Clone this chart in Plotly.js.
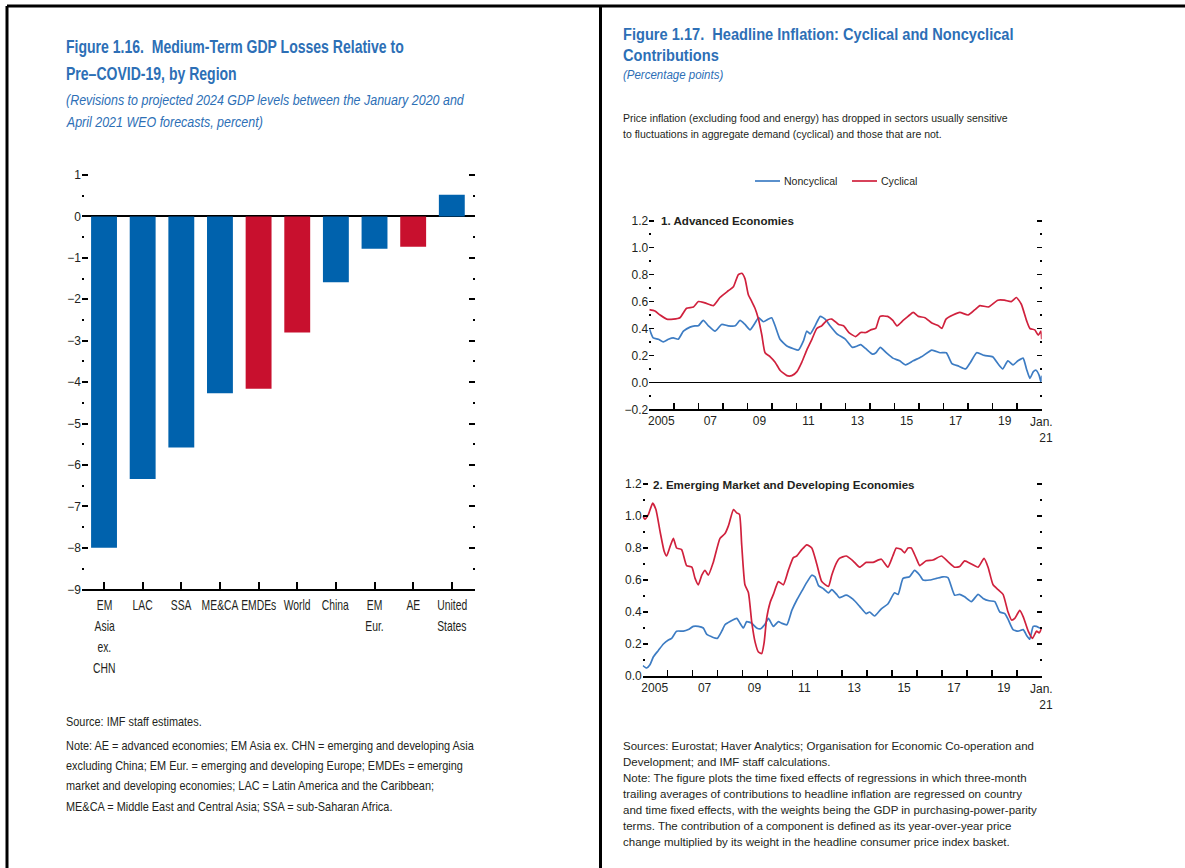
<!DOCTYPE html>
<html>
<head>
<meta charset="utf-8">
<script src="https://cdn.plot.ly/plotly-3.0.1.min.js"></script>
<style>
html,body{margin:0;padding:0;background:#fff;}
#chart{width:1185px;height:868px;}
</style>
</head>
<body>
<div id="chart"></div>
<script>
// ---------- Figure 1.16 data ----------
const regions = ['EM<br>Asia<br>ex.<br>CHN','LAC','SSA','ME&CA','EMDEs','World','China','EM<br>Eur.','AE','United<br>States'];
const gdpRevision = [-8.0, -6.34, -5.58, -4.27, -4.16, -2.80, -1.59, -0.78, -0.73, 0.52];
const aggregateGroups = ['EMDEs','World','AE'];

// ---------- Figure 1.17 data ----------
// Panel 1: Advanced Economies
const aeNoncycDates = [2005.00,2005.16,2005.37,2005.57,2005.78,2005.98,2006.18,2006.39,2006.66,2006.86,2007.00,2007.20,2007.41,2007.68,2007.95,2008.22,2008.50,2008.70,2008.90,2009.11,2009.31,2009.45,2009.65,2009.86,2009.99,2010.13,2010.33,2010.61,2010.88,2011.08,2011.29,2011.42,2011.56,2011.76,2011.97,2012.17,2012.37,2012.65,2013.00,2013.28,2013.48,2013.62,2013.83,2014.10,2014.24,2014.42,2014.66,2014.93,2015.21,2015.45,2015.76,2016.10,2016.52,2016.86,2017.11,2017.34,2017.62,2017.90,2018.10,2018.35,2018.66,2019.00,2019.21,2019.41,2019.62,2019.83,2020.03,2020.24,2020.38,2020.52,2020.66,2020.77,2020.90,2020.97,2021.00];
const aeNoncyc = [0.40,0.33,0.32,0.30,0.32,0.33,0.32,0.38,0.41,0.42,0.42,0.46,0.42,0.38,0.43,0.42,0.42,0.46,0.43,0.39,0.44,0.48,0.45,0.47,0.48,0.42,0.32,0.27,0.25,0.24,0.31,0.38,0.36,0.42,0.49,0.47,0.42,0.36,0.32,0.26,0.27,0.28,0.25,0.21,0.22,0.26,0.22,0.18,0.16,0.13,0.16,0.19,0.24,0.22,0.22,0.14,0.12,0.10,0.15,0.22,0.20,0.19,0.14,0.10,0.16,0.13,0.16,0.18,0.10,0.03,0.08,0.09,0.05,0.00,0.05];
const aeCycDates = [2005.00,2005.23,2005.44,2005.71,2005.98,2006.25,2006.52,2006.80,2007.00,2007.27,2007.61,2007.88,2008.22,2008.43,2008.63,2008.77,2008.90,2009.04,2009.18,2009.31,2009.45,2009.59,2009.72,2009.93,2010.13,2010.33,2010.61,2010.81,2011.02,2011.22,2011.42,2011.63,2011.83,2012.03,2012.24,2012.44,2012.72,2012.92,2013.14,2013.41,2013.62,2013.83,2014.03,2014.23,2014.41,2014.72,2014.93,2015.10,2015.35,2015.55,2015.76,2015.97,2016.24,2016.52,2016.79,2016.93,2017.10,2017.38,2017.66,2018.00,2018.28,2018.48,2018.83,2019.21,2019.48,2019.76,2019.97,2020.17,2020.38,2020.52,2020.72,2020.86,2020.97,2021.00];
const aeCyc = [0.54,0.53,0.50,0.47,0.47,0.48,0.55,0.56,0.60,0.59,0.57,0.63,0.68,0.71,0.80,0.81,0.77,0.65,0.60,0.55,0.47,0.35,0.22,0.19,0.15,0.09,0.05,0.05,0.08,0.15,0.24,0.32,0.40,0.42,0.46,0.47,0.43,0.42,0.37,0.34,0.37,0.37,0.39,0.40,0.49,0.49,0.46,0.42,0.46,0.49,0.52,0.49,0.48,0.44,0.42,0.40,0.47,0.50,0.52,0.50,0.54,0.57,0.56,0.61,0.61,0.60,0.63,0.58,0.46,0.40,0.39,0.35,0.38,0.32];

// Panel 2: Emerging Market and Developing Economies
const emNoncycDates = [2005.00,2005.16,2005.29,2005.43,2005.63,2005.83,2006.03,2006.16,2006.36,2006.63,2006.83,2007.03,2007.23,2007.43,2007.57,2007.77,2007.99,2008.17,2008.30,2008.50,2008.77,2008.90,2009.04,2009.17,2009.37,2009.57,2009.73,2009.91,2010.04,2010.24,2010.44,2010.57,2010.78,2010.98,2011.18,2011.38,2011.58,2011.78,2011.91,2012.05,2012.25,2012.45,2012.58,2012.78,2012.89,2013.16,2013.43,2013.70,2013.96,2014.10,2014.30,2014.57,2014.83,2015.10,2015.24,2015.44,2015.70,2015.90,2016.11,2016.24,2016.51,2016.78,2017.04,2017.24,2017.51,2017.71,2017.91,2018.18,2018.45,2018.65,2018.89,2019.12,2019.32,2019.52,2019.65,2019.85,2020.05,2020.26,2020.39,2020.52,2020.66,2020.79,2020.92,2021.00];
const emNoncyc = [0.065,0.05,0.07,0.12,0.16,0.20,0.225,0.235,0.28,0.28,0.29,0.31,0.31,0.30,0.26,0.245,0.235,0.28,0.32,0.34,0.36,0.33,0.30,0.34,0.33,0.30,0.295,0.325,0.36,0.31,0.34,0.33,0.32,0.41,0.475,0.53,0.585,0.63,0.62,0.565,0.545,0.52,0.54,0.51,0.49,0.505,0.48,0.435,0.39,0.40,0.375,0.42,0.45,0.52,0.51,0.61,0.62,0.66,0.63,0.60,0.60,0.61,0.62,0.615,0.505,0.51,0.495,0.465,0.51,0.485,0.47,0.465,0.40,0.39,0.355,0.29,0.28,0.29,0.255,0.23,0.31,0.31,0.30,0.30];
const emCycDates = [2005.00,2005.09,2005.23,2005.40,2005.53,2005.70,2005.86,2005.96,2006.10,2006.23,2006.36,2006.56,2006.76,2006.97,2007.10,2007.23,2007.37,2007.50,2007.63,2007.83,2008.10,2008.30,2008.44,2008.64,2008.77,2008.88,2008.97,2009.10,2009.24,2009.37,2009.51,2009.64,2009.77,2009.87,2009.97,2010.11,2010.24,2010.44,2010.64,2010.84,2011.04,2011.18,2011.38,2011.58,2011.78,2011.98,2012.18,2012.45,2012.58,2012.78,2012.89,2013.16,2013.43,2013.70,2013.96,2014.23,2014.57,2014.83,2015.03,2015.17,2015.37,2015.50,2015.64,2015.77,2015.97,2016.11,2016.37,2016.64,2016.98,2017.24,2017.51,2017.71,2017.91,2018.18,2018.45,2018.69,2018.85,2019.05,2019.25,2019.45,2019.65,2019.79,2019.92,2020.12,2020.26,2020.46,2020.63,2020.79,2020.90,2021.00];
const emCyc = [1.00,0.98,1.01,1.08,1.04,0.90,0.78,0.75,0.81,0.86,0.80,0.79,0.69,0.68,0.61,0.57,0.63,0.66,0.63,0.71,0.86,0.89,0.94,1.04,1.02,1.01,0.82,0.57,0.52,0.34,0.21,0.15,0.14,0.21,0.36,0.46,0.51,0.59,0.57,0.66,0.74,0.75,0.79,0.82,0.80,0.70,0.59,0.56,0.63,0.71,0.735,0.75,0.72,0.68,0.71,0.71,0.73,0.68,0.75,0.80,0.79,0.77,0.80,0.80,0.735,0.69,0.72,0.725,0.75,0.715,0.68,0.685,0.72,0.70,0.68,0.735,0.68,0.57,0.54,0.51,0.40,0.35,0.36,0.41,0.37,0.28,0.235,0.28,0.27,0.30];

const yearTicks = [2005,2006,2007,2008,2009,2010,2011,2012,2013,2014,2015,2016,2017,2018,2019,2020,2021];
const yearTickLabels = ['2005','','07','','09','','11','','13','','15','','17','','19','',''];
const endTickLabel = 'Jan.<br>21';

const panelTitles = ['1. Advanced Economies','2. Emerging Market and Developing Economies'];
const seriesNames = ['Noncyclical','Cyclical'];

// ---------- Styling ----------
const W = 1185, H = 868;
const px = v => v / W;
const py = v => 1 - v / H;
const SANS = '"Liberation Sans", Arial, sans-serif';
const BLUE_T = '#2D6FB6';
const BAR_BLUE = '#0062AD';
const BAR_RED = '#C8102E';
const LINE_BLUE = '#3D7CC3';
const LINE_RED = '#D0213D';
const INK = '#231F20';

const barColors = regions.map(r => aggregateGroups.includes(r) ? BAR_RED : BAR_BLUE);
const catIdx = regions.map((r, i) => i);

const traces = [
  {type:'bar', x: catIdx, y: gdpRevision, marker:{color: barColors, line:{width:0}},
   xaxis:'x', yaxis:'y', showlegend:false, hoverinfo:'skip'},
  {type:'scatter', mode:'lines', name: seriesNames[0], x: aeNoncycDates, y: aeNoncyc, showlegend:false,
   line:{color: LINE_BLUE, width:1.7, shape:'spline', smoothing:0.5}, xaxis:'x2', yaxis:'y2'},
  {type:'scatter', mode:'lines', name: seriesNames[1], x: aeCycDates, y: aeCyc, showlegend:false,
   line:{color: LINE_RED, width:1.7, shape:'spline', smoothing:0.5}, xaxis:'x2', yaxis:'y2'},
  {type:'scatter', mode:'lines', name: seriesNames[0], x: emNoncycDates, y: emNoncyc, showlegend:false,
   line:{color: LINE_BLUE, width:1.7, shape:'spline', smoothing:0.5}, xaxis:'x3', yaxis:'y3'},
  {type:'scatter', mode:'lines', name: seriesNames[1], x: emCycDates, y: emCyc, showlegend:false,
   line:{color: LINE_RED, width:1.7, shape:'spline', smoothing:0.5}, xaxis:'x3', yaxis:'y3'}
];

const barTickFont = {family: SANS, size: 12, color: INK};
const panelTickFont = {family: SANS, size: 12, color: INK};

function timeX(domain, anchor) {
  return {domain, anchor, range:[2005, 2021], showgrid:false, zeroline:false,
    showline:true, linecolor:'#000', linewidth:1.5,
    tickmode:'array', tickvals: yearTicks, ticktext: yearTickLabels,
    ticks:'inside', ticklen:6, tickwidth:1.5, tickcolor:'#000',
    ticklabelshift: 12, tickfont: panelTickFont, fixedrange:true};
}
function timeY(domain, anchor, range) {
  return {domain, anchor, range, dtick:0.2, tick0:0, tickformat:'.1f',
    showgrid:false, showline:false, zeroline:true, zerolinecolor:'#000', zerolinewidth:1.5,
    ticks:'inside', ticklen:5, tickwidth:1.5, tickcolor:'#000', mirror:'ticks',
    minor:{dtick:0.1, tick0:0, ticks:'inside', ticklen:2, tickwidth:1.5, tickcolor:'#000', showgrid:false},
    tickfont: panelTickFont, fixedrange:true};
}

const layout = {
  width: W, height: H,
  margin:{l:0, r:0, t:0, b:0},
  paper_bgcolor:'#fff', plot_bgcolor:'rgba(0,0,0,0)',
  bargap: 0.33,
  showlegend: false,
  xaxis:{domain:[px(82), px(475)], anchor:'y', range:[-0.57, 9.6],
    tickmode:'array', tickvals: catIdx, showticklabels:false,
    showgrid:false, zeroline:false, showline:true, linecolor:'#000', linewidth:2,
    ticks:'inside', ticklen:7, tickwidth:2, tickcolor:'#000', fixedrange:true},
  yaxis:{domain:[py(589.3), py(172.9)], anchor:'x', range:[-9, 1.05], dtick:1, tick0:0,
    showgrid:false, showline:false, zeroline:true, zerolinecolor:'#000', zerolinewidth:2,
    ticks:'inside', ticklen:6, tickwidth:2, tickcolor:'#000', mirror:'ticks',
    minor:{dtick:0.5, tick0:0, ticks:'inside', ticklen:2, tickwidth:2, tickcolor:'#000', showgrid:false},
    tickfont: barTickFont, fixedrange:true},
  xaxis2: timeX([px(649.3), px(1041.7)], 'y2'),
  yaxis2: timeY([py(409.3), py(219.4)], 'x2', [-0.2, 1.21]),
  xaxis3: timeX([px(642.7), px(1041.7)], 'y3'),
  yaxis3: timeY([py(676), py(482.4)], 'x3', [0, 1.21]),
  shapes: [
    {type:'line', xref:'paper', yref:'paper', x0:px(7), x1:1, y0:py(6), y1:py(6), line:{color:'#000', width:3}},
    {type:'line', xref:'paper', yref:'paper', x0:px(7), x1:px(7), y0:py(6), y1:0, line:{color:'#000', width:3}},
    {type:'line', xref:'paper', yref:'paper', x0:px(600.5), x1:px(600.5), y0:py(6), y1:0, line:{color:'#000', width:3}}
  ],
  annotations: []
};

// horizontal condensing factor per annotation (emulates the narrow typeface)
const annScale = [];
function txt(text, x, y, font, scale, extra) {
  layout.annotations.push(Object.assign({text, xref:'paper', yref:'paper', x:px(x), y:py(y),
    xanchor:'left', yanchor:'middle', showarrow:false, align:'left', font}, extra || {}));
  annScale.push({s: scale || 1, origin: (extra && extra.xanchor === 'center') ? 'center' : 'left'});
}

// ----- left panel texts -----
const titleFontL = {family: SANS, size: 18, color: BLUE_T, weight: 700};
const subFontL = {family: SANS, size: 14, color: BLUE_T, style:'italic'};
const noteFontL = {family: SANS, size: 13, color: INK};

txt('Figure 1.16.  Medium-Term GDP Losses Relative to', 64, 47, titleFontL, 0.78);
txt('Pre–COVID-19, by Region', 64, 74, titleFontL, 0.78);
txt('(Revisions to projected 2024 GDP levels between the January 2020 and', 64, 100, subFontL, 0.89);
txt('April 2021 WEO forecasts, percent)', 64, 122, subFontL, 0.89);
txt('Source: IMF staff estimates.', 64, 721, noteFontL, 0.84);
txt('Note: AE = advanced economies; EM Asia ex. CHN = emerging and developing Asia', 64, 745, noteFontL, 0.84);
txt('excluding China; EM Eur. = emerging and developing Europe; EMDEs = emerging', 64, 765, noteFontL, 0.84);
txt('market and developing economies; LAC = Latin America and the Caribbean;', 64, 785, noteFontL, 0.84);
txt('ME&CA = Middle East and Central Asia; SSA = sub-Saharan Africa.', 64, 806, noteFontL, 0.84);

// category labels under the bars (one annotation per line, placed on the category axis)
const catFont = {family: SANS, size: 14, color: INK};
regions.forEach((lab, i) => {
  lab.split('<br>').forEach((line, k) => {
    layout.annotations.push({text: line, xref:'x', yref:'paper', x: i, y: py(605 + 21 * k),
      xanchor:'center', yanchor:'middle', showarrow:false, font: catFont});
    annScale.push({s: 0.74, origin: 'center'});
  });
});

// ----- right panel texts -----
const titleFontR = {family: SANS, size: 17, color: BLUE_T, weight: 700};
const subFontR = {family: SANS, size: 12.5, color: BLUE_T, style:'italic'};
const bodyFontR = {family: SANS, size: 10.5, color: INK};
const noteFontR = {family: SANS, size: 11.5, color: INK};
const panelTitleFont = {family: SANS, size: 11.6, color: INK, weight: 700};

txt('Figure 1.17.  Headline Inflation: Cyclical and Noncyclical', 621, 35, titleFontR, 0.86);
txt('Contributions', 621, 56, titleFontR, 0.86);
txt('(Percentage points)', 621, 75, subFontR, 0.92);
txt('Price inflation (excluding food and energy) has dropped in sectors usually sensitive', 621, 118, bodyFontR, 1);
txt('to fluctuations in aggregate demand (cyclical) and those that are not.', 621, 134, bodyFontR, 1);
txt(panelTitles[0], 659, 221, panelTitleFont, 1);
txt(panelTitles[1], 651, 484, panelTitleFont, 1);

const notesR = [
  'Sources: Eurostat; Haver Analytics; Organisation for Economic Co-operation and',
  'Development; and IMF staff calculations.',
  'Note: The figure plots the time fixed effects of regressions in which three-month',
  'trailing averages of contributions to headline inflation are regressed on country',
  'and time fixed effects, with the weights being the GDP in purchasing-power-parity',
  'terms. The contribution of a component is defined as its year-over-year price',
  'change multiplied by its weight in the headline consumer price index basket.'
];
notesR.forEach((t, i) => txt(t, 621, 746 + i * 16, noteFontR, 1));

// legend (drawn by hand to match the original compact key)
const legendColors = [LINE_BLUE, LINE_RED];
const legendX = [755, 852];
seriesNames.forEach((name, i) => {
  layout.shapes.push({type:'line', xref:'paper', yref:'paper', x0: px(legendX[i]), x1: px(legendX[i] + 25),
    y0: py(181), y1: py(181), line:{color: legendColors[i], width: 1.7}});
  txt(name, legendX[i] + 27, 181, {family: SANS, size: 11.5, color: INK}, 0.92);
});

// end-of-axis date labels
[['x2', 409.3], ['x3', 676]].forEach(([ax, yb]) => {
  layout.annotations.push({text: endTickLabel, xref: ax, yref:'paper', x: 2021, y: py(yb + 4),
    xanchor:'center', yanchor:'top', showarrow:false, align:'right', font: panelTickFont});
  annScale.push({s: 1, origin: 'center'});
});

Plotly.newPlot('chart', traces, layout, {staticPlot:true, displayModeBar:false}).then(gd => {
  gd.querySelectorAll('g.annotation').forEach(g => {
    const idx = +g.getAttribute('data-index');
    const cfg = annScale[idx];
    if (!cfg || cfg.s === 1) return;
    const t = g.querySelector('text.annotation-text');
    if (!t) return;
    t.style.transformBox = 'fill-box';
    t.style.transformOrigin = cfg.origin + ' center';
    t.style.transform = 'scaleX(' + cfg.s + ')';
  });
});
</script>
</body>
</html>
